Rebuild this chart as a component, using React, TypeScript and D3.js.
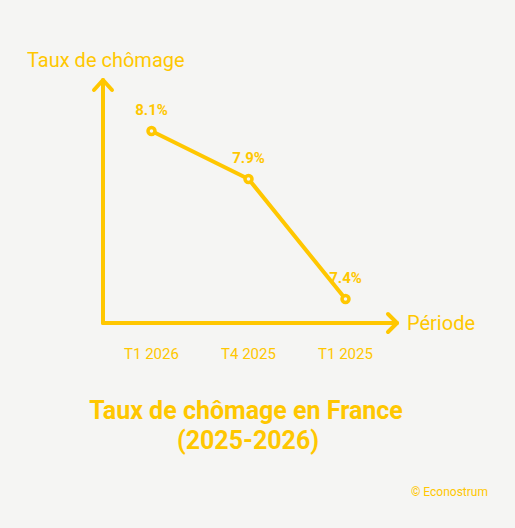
import React from 'react';
import * as d3 from 'd3';

const periods = ['T1 2026', 'T4 2025', 'T1 2025'];
const rates = [8.1, 7.9, 7.4];
const yDomain = [7.3, 8.3];

const W = 515;
const H = 528;
const YELLOW = '#ffc700';
const BG = '#f5f5f3';
const FONT = 'Roboto, "Noto Sans", sans-serif';

const App = () => {
  const x0 = 103;
  const y0 = 323;
  const x = d3.scalePoint<string>().domain(periods).range([x0, 394]).padding(0.5);
  const y = d3.scaleLinear().domain(yDomain).range([y0, 83]);

  const line = d3
    .line<number>()
    .x((_, i) => x(periods[i]) as number)
    .y((d) => y(d));

  const yTop = 80;
  const xEnd = 397;

  return (
    <div style={{ position: 'absolute', left: 0, top: 0 }}>
      <svg width={W} height={H} style={{ display: 'block', background: BG }}>
        <rect width={W} height={H} fill={BG} />

        {/* axes with arrow heads */}
        <g stroke={YELLOW} strokeWidth={4} fill="none" strokeLinecap="round" strokeLinejoin="round">
          <path d={`M${x0},${y0} L${x0},${yTop}`} />
          <path d={`M${x0 - 9},${yTop + 10} L${x0},${yTop} L${x0 + 9},${yTop + 10}`} />
          <path d={`M${x0},${y0} L${xEnd},${y0}`} />
          <path d={`M${xEnd - 9},${y0 - 9} L${xEnd},${y0} L${xEnd - 9},${y0 + 9}`} />
        </g>

        <text x={27} y={67} fill={YELLOW} fontFamily={FONT} fontSize={20}>
          Taux de chômage
        </text>
        <text x={407} y={330} fill={YELLOW} fontFamily={FONT} fontSize={20}>
          Période
        </text>

        {/* series */}
        <path d={line(rates) || ''} stroke={YELLOW} strokeWidth={4} fill="none" strokeLinejoin="round" />
        {rates.map((v, i) => (
          <g key={periods[i]}>
            <circle cx={x(periods[i])} cy={y(v)} r={3.5} fill={BG} stroke={YELLOW} strokeWidth={3.5} />
            <text
              x={x(periods[i])}
              y={y(v) - 16}
              textAnchor="middle"
              fill={YELLOW}
              fontFamily={FONT}
              fontWeight="bold"
              fontSize={15}
            >
              {v.toFixed(1)}%
            </text>
          </g>
        ))}

        {/* tick labels */}
        {periods.map((p) => (
          <text
            key={p}
            x={x(p)}
            y={359}
            textAnchor="middle"
            fill={YELLOW}
            fontFamily={FONT}
            fontSize={15}
          >
            {p}
          </text>
        ))}

        <text textAnchor="middle" fill={YELLOW} fontFamily={FONT} fontWeight="bold" fontSize={25}>
          <tspan x={246} y={419}>Taux de chômage en France</tspan>
          <tspan x={248} y={449}>(2025-2026)</tspan>
        </text>

        <text x={488} y={496} textAnchor="end" fill={YELLOW} fontFamily={FONT} fontSize={12}>
          © Econostrum
        </text>
      </svg>
    </div>
  );
};

export default App;
